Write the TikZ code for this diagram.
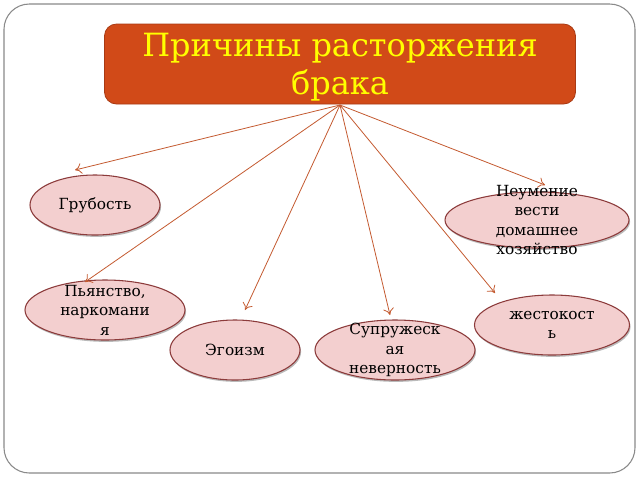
\documentclass[tikz,border=0pt]{standalone}
\usepackage{fontspec}
\setmainfont{DejaVu Serif}
\usetikzlibrary{shadows,arrows.meta,shapes.geometric}
\definecolor{titlefill}{HTML}{D14A18}
\definecolor{titleborder}{HTML}{A83A14}
\definecolor{titletext}{HTML}{FFFF00}
\definecolor{ellfill}{HTML}{F3CFCF}
\definecolor{ellborder}{HTML}{8C3B3B}
\definecolor{arrowcol}{HTML}{C45A30}
\definecolor{framecol}{HTML}{8A8A8A}
\tikzset{
  cause/.style={ellipse, draw=ellborder, line width=0.8pt, fill=ellfill,
    inner sep=0pt,
    drop shadow={shadow xshift=0.8pt, shadow yshift=-1.4pt, fill=black!45, opacity=0.6}},
  causetext/.style={align=center, inner sep=0pt, font=\fontsize{11.5}{14.6}\selectfont, text=black},
  link/.style={draw=arrowcol, line width=0.6pt, -{To[length=5pt,width=8pt]}},
}
\begin{document}
\begin{tikzpicture}[x=0.75pt,y=-0.75pt]
\useasboundingbox (0,0) rectangle (640,480);
\fill[white] (0,0) rectangle (640,480);
\draw[framecol, line width=0.8pt, rounded corners=19pt] (4,4) rectangle (635,473);
\node[draw=titleborder, fill=titlefill, rounded corners=9pt, line width=0.6pt,
  minimum width=471*0.75pt, minimum height=80*0.75pt] (title) at (340,64) {};
\node[text=titletext, align=center, font=\fontsize{24}{28}\selectfont, inner sep=0pt] (titletxt) at (340,67) {Причины расторжения\\брака};
\coordinate (hub) at (340,105);
\node[cause, minimum width=130*0.75pt, minimum height=60*0.75pt] (e1) at (95,205) {};
\node[cause, minimum width=184*0.75pt, minimum height=56*0.75pt] (e2) at (537,220) {};
\node[cause, minimum width=160*0.75pt, minimum height=60*0.75pt] (e3) at (105,310) {};
\node[cause, minimum width=130*0.75pt, minimum height=60*0.75pt] (e4) at (235,350) {};
\node[cause, minimum width=160*0.75pt, minimum height=60*0.75pt] (e5) at (395,350) {};
\node[cause, minimum width=155*0.75pt, minimum height=60*0.75pt] (e6) at (552,325) {};
\node[causetext] (l1) at (e1.center) {Грубость};
\node[causetext] (l2) at (e2.center) {Неумение\\вести\\домашнее\\хозяйство};
\node[causetext] (l3) at (e3.center) {Пьянство,\\наркомани\\я};
\node[causetext] (l4) at (e4.center) {Эгоизм};
\node[causetext] (l5) at (e5.center) {Супружеск\\ая\\неверность};
\node[causetext] (l6) at (e6.center) {жестокост\\ь};
\coordinate (t1) at (75,170);
\coordinate (t2) at (545,185);
\coordinate (t3) at (85,282);
\coordinate (t4) at (245,310);
\coordinate (t5) at (390,315);
\coordinate (t6) at (495,293);
\foreach \t in {t1,t2,t3,t4,t5,t6} \draw[link] (hub) -- (\t);
\end{tikzpicture}
\end{document}
